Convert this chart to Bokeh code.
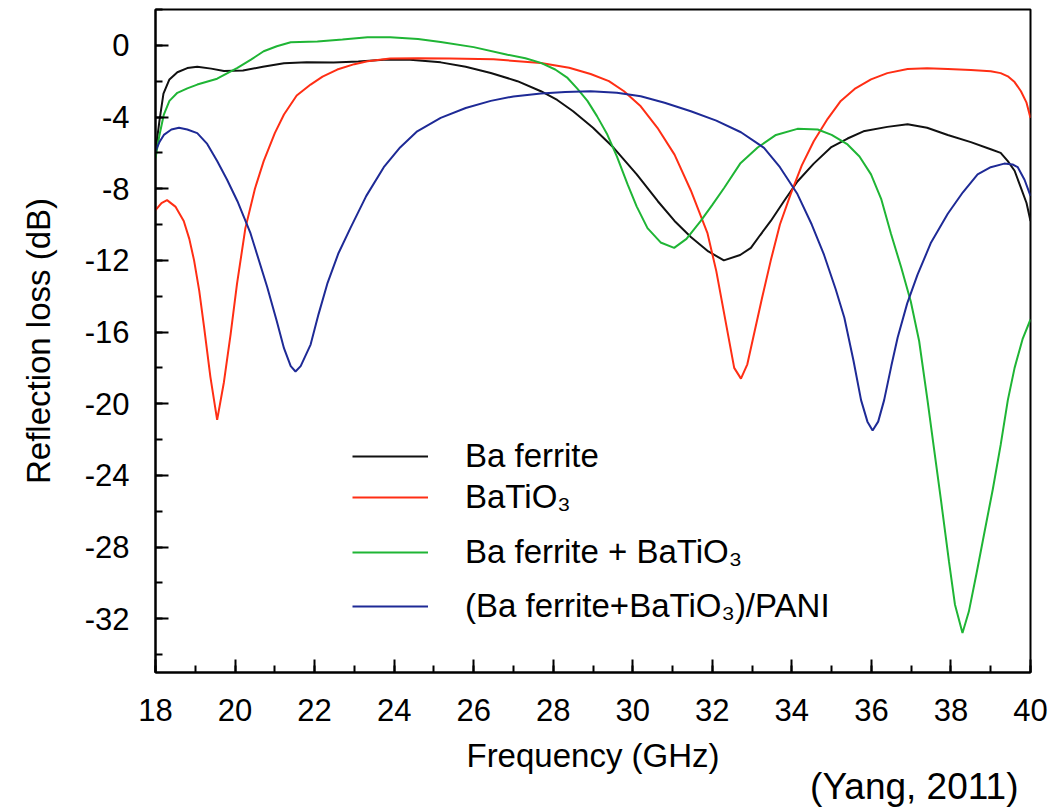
from bokeh.plotting import figure
from bokeh.models import (Range1d, FixedTicker, Legend, LegendItem, Title)
from bokeh.embed import file_html
from bokeh.resources import INLINE

# ---------------- data ----------------
freq_ba_ferrite = [18.0, 18.1, 18.2, 18.35, 18.55, 18.8, 19.05, 19.4, 19.72, 20.2, 20.7,
                   21.23, 21.8, 22.48, 23.1, 23.74, 24.4, 25.17, 25.8, 26.43, 27.1, 27.69,
                   28.1, 28.5, 29.0, 29.52, 30.1, 30.63, 31.05, 31.46, 31.9, 32.29, 32.7,
                   32.97, 33.2, 33.47, 33.8, 34.14, 34.55, 34.98, 35.4, 35.8, 36.4, 36.91,
                   37.4, 37.92, 38.5, 39.0, 39.25, 39.43, 39.6, 39.76, 39.9, 40.0]
rl_ba_ferrite = [-5.9, -4.2, -2.7, -1.9, -1.5, -1.27, -1.2, -1.3, -1.43, -1.4, -1.2,
                 -1.0, -0.95, -0.96, -0.9, -0.8, -0.8, -0.95, -1.2, -1.54, -2.0, -2.56,
                 -3.05, -3.68, -4.6, -5.72, -7.2, -8.7, -9.8, -10.7, -11.5, -12.0, -11.7,
                 -11.3, -10.6, -9.8, -8.7, -7.6, -6.6, -5.7, -5.2, -4.8, -4.55, -4.4,
                 -4.6, -5.0, -5.4, -5.8, -6.0, -6.46, -7.0, -7.95, -8.8, -9.8]

freq_batio3 = [18.0, 18.15, 18.29, 18.5, 18.71, 18.85, 18.97, 19.1, 19.22, 19.38, 19.55,
               19.72, 19.89, 20.05, 20.26, 20.5, 20.72, 21.0, 21.23, 21.55, 21.9, 22.2,
               22.57, 23.0, 23.33, 23.9, 24.6, 25.4, 26.5, 27.69, 28.4, 28.94, 29.4,
               29.78, 30.2, 30.62, 31.05, 31.46, 31.88, 32.1, 32.3, 32.55, 32.72, 32.88,
               33.05, 33.25, 33.47, 33.7, 33.97, 34.25, 34.55, 34.9, 35.23, 35.6, 35.99,
               36.4, 36.91, 37.4, 37.92, 38.5, 39.0, 39.25, 39.43, 39.6, 39.76, 39.9, 40.0]
rl_batio3 = [-9.2, -8.8, -8.64, -9.0, -9.8, -10.8, -12.0, -13.7, -15.7, -18.5, -20.9,
             -18.8, -16.1, -13.3, -10.2, -8.0, -6.46, -4.9, -3.86, -2.8, -2.19, -1.75,
             -1.35, -1.05, -0.89, -0.74, -0.72, -0.74, -0.78, -0.98, -1.25, -1.6, -2.0,
             -2.56, -3.4, -4.6, -6.1, -8.1, -10.5, -12.6, -15.0, -18.0, -18.6, -17.8,
             -16.1, -14.1, -12.0, -10.0, -8.3, -6.7, -5.35, -4.1, -3.1, -2.4, -1.9,
             -1.55, -1.32, -1.28, -1.32, -1.38, -1.45, -1.55, -1.73, -2.05, -2.56, -3.2, -4.05]

freq_mix = [18.0, 18.1, 18.21, 18.35, 18.55, 18.8, 19.05, 19.55, 20.06, 20.4, 20.72, 21.05,
            21.4, 22.07, 22.7, 23.33, 23.9, 24.6, 25.17, 26.0, 26.85, 27.3, 27.69, 28.05,
            28.36, 28.6, 28.86, 29.1, 29.36, 29.6, 29.87, 30.1, 30.37, 30.7, 31.04, 31.35,
            31.71, 32.0, 32.3, 32.7, 33.14, 33.6, 34.14, 34.65, 35.0, 35.4, 35.7, 35.99,
            36.25, 36.49, 36.75, 36.99, 37.2, 37.41, 37.58, 37.75, 37.95, 38.1, 38.29,
            38.45, 38.64, 38.84, 39.05, 39.25, 39.43, 39.6, 39.8, 40.0]
rl_mix = [-6.3, -5.0, -3.86, -3.1, -2.65, -2.4, -2.19, -1.86, -1.26, -0.8, -0.33, -0.05,
          0.17, 0.22, 0.32, 0.45, 0.45, 0.35, 0.18, -0.1, -0.52, -0.72, -0.98, -1.35,
          -1.82, -2.4, -3.1, -3.95, -4.98, -6.2, -7.76, -9.0, -10.2, -11.0, -11.3, -10.8,
          -9.8, -8.9, -7.95, -6.6, -5.7, -5.0, -4.66, -4.7, -5.0, -5.53, -6.2, -7.2,
          -8.6, -10.5, -12.4, -14.3, -16.5, -19.8, -22.6, -25.4, -28.8, -31.2, -32.8,
          -31.6, -29.5, -27.2, -24.8, -22.3, -19.8, -18.0, -16.4, -15.3]

freq_pani = [18.0, 18.1, 18.21, 18.4, 18.59, 18.8, 19.05, 19.3, 19.55, 19.8, 20.06, 20.39,
             20.81, 21.05, 21.23, 21.4, 21.52, 21.65, 21.9, 22.1, 22.32, 22.6, 22.9, 23.3,
             23.74, 24.15, 24.58, 25.17, 25.8, 26.43, 27.0, 27.69, 28.3, 28.94, 29.6, 30.2,
             30.8, 31.46, 32.1, 32.72, 33.3, 33.7, 34.14, 34.5, 34.81, 35.1, 35.32, 35.55,
             35.74, 35.9, 36.03, 36.17, 36.32, 36.5, 36.66, 36.9, 37.16, 37.5, 37.92, 38.3,
             38.67, 39.0, 39.34, 39.55, 39.68, 39.85, 40.0]
rl_pani = [-5.9, -5.4, -5.0, -4.7, -4.6, -4.7, -4.9, -5.5, -6.46, -7.5, -8.7, -10.5,
           -13.5, -15.4, -16.9, -17.9, -18.2, -17.9, -16.7, -15.0, -13.3, -11.6, -10.2, -8.4,
           -6.8, -5.7, -4.8, -4.05, -3.5, -3.1, -2.85, -2.69, -2.6, -2.56, -2.65, -2.84,
           -3.2, -3.68, -4.2, -4.85, -5.72, -6.8, -8.3, -10.0, -11.7, -13.6, -15.2, -17.6,
           -19.8, -21.0, -21.5, -21.0, -19.8, -17.9, -16.3, -14.4, -12.8, -11.0, -9.4, -8.2,
           -7.2, -6.8, -6.6, -6.65, -6.8, -7.5, -8.4]

series_names = ["Ba ferrite", "BaTiO\u2083", "Ba ferrite + BaTiO\u2083",
                "(Ba ferrite+BaTiO\u2083)/PANI"]
series_colors = ["#111111", "#ff2e14", "#1fb535", "#1e2a96"]

x_major = list(range(18, 41, 2))
x_minor = list(range(18, 41, 1))
y_major = [0, -4, -8, -12, -16, -20, -24, -28, -32]
y_minor = list(range(2, -36, -2))

citation = "(Yang, 2011)"

FONT = "Liberation Sans"

# ---------------- figure ----------------
p = figure(width=1059, height=809, output_backend="svg", toolbar_location=None,
           x_range=Range1d(18, 40), y_range=Range1d(-35, 2),
           min_border_left=155, min_border_right=29, min_border_top=9,
           min_border_bottom=137)
p.background_fill_color = "white"
p.border_fill_color = "white"
p.outline_line_color = "black"
p.outline_line_width = 2
p.grid.visible = False

xs = [freq_ba_ferrite, freq_batio3, freq_mix, freq_pani]
ys = [rl_ba_ferrite, rl_batio3, rl_mix, rl_pani]
renderers = []
for x, y, c in zip(xs, ys, series_colors):
    r = p.line(x, y, line_color=c, line_width=2)
    renderers.append(r)

for ax in (p.xaxis[0], p.yaxis[0]):
    ax.axis_line_color = "black"
    ax.axis_line_width = 2
    ax.major_tick_line_color = "black"
    ax.major_tick_line_width = 2
    ax.minor_tick_line_color = "black"
    ax.minor_tick_line_width = 2
    ax.major_tick_in = 13
    ax.major_tick_out = 0
    ax.minor_tick_in = 7
    ax.minor_tick_out = 0
    ax.major_label_text_font = FONT
    ax.major_label_text_font_size = "31px"
    ax.major_label_text_color = "black"
    ax.axis_label_text_font = FONT
    ax.axis_label_text_font_size = "33px"
    ax.axis_label_text_font_style = "normal"
    ax.axis_label_text_color = "black"

p.xaxis[0].ticker = FixedTicker(ticks=x_major, minor_ticks=x_minor)
p.yaxis[0].ticker = FixedTicker(ticks=y_major, minor_ticks=y_minor)
p.yaxis[0].major_label_overrides = {v: str(v) for v in y_major}
p.xaxis[0].major_label_overrides = {v: str(v) for v in x_major}
p.xaxis[0].axis_label = "Frequency (GHz)"
p.yaxis[0].axis_label = "Reflection loss (dB)"
p.xaxis[0].major_label_standoff = 26
p.xaxis[0].axis_label_standoff = 13
p.yaxis[0].major_label_standoff = 26
p.yaxis[0].axis_label_standoff = 25

# ---------------- legend (one per row to reproduce the uneven spacing) --------
row_offsets = [194, 153, 98, 44]
for name, r, vy in zip(series_names, renderers, row_offsets):
    lg = Legend(items=[LegendItem(label=name, renderers=[r])],
                location=(197, vy), orientation="vertical",
                glyph_width=76, glyph_height=44, label_standoff=37,
                padding=0, margin=0, spacing=0,
                background_fill_alpha=0, border_line_alpha=0,
                label_text_font=FONT, label_text_font_size="33px",
                label_text_color="black")
    p.add_layout(lg, "center")

# ---------------- citation (below the x axis, right aligned) ----------------
cite = Title(text=citation, align="right", vertical_align="top",
             offset=12, standoff=-21, text_font=FONT, text_font_size="37px",
             text_font_style="normal", text_color="black")
p.add_layout(cite, "below")

open("out.html", "w").write(file_html(p, INLINE))
